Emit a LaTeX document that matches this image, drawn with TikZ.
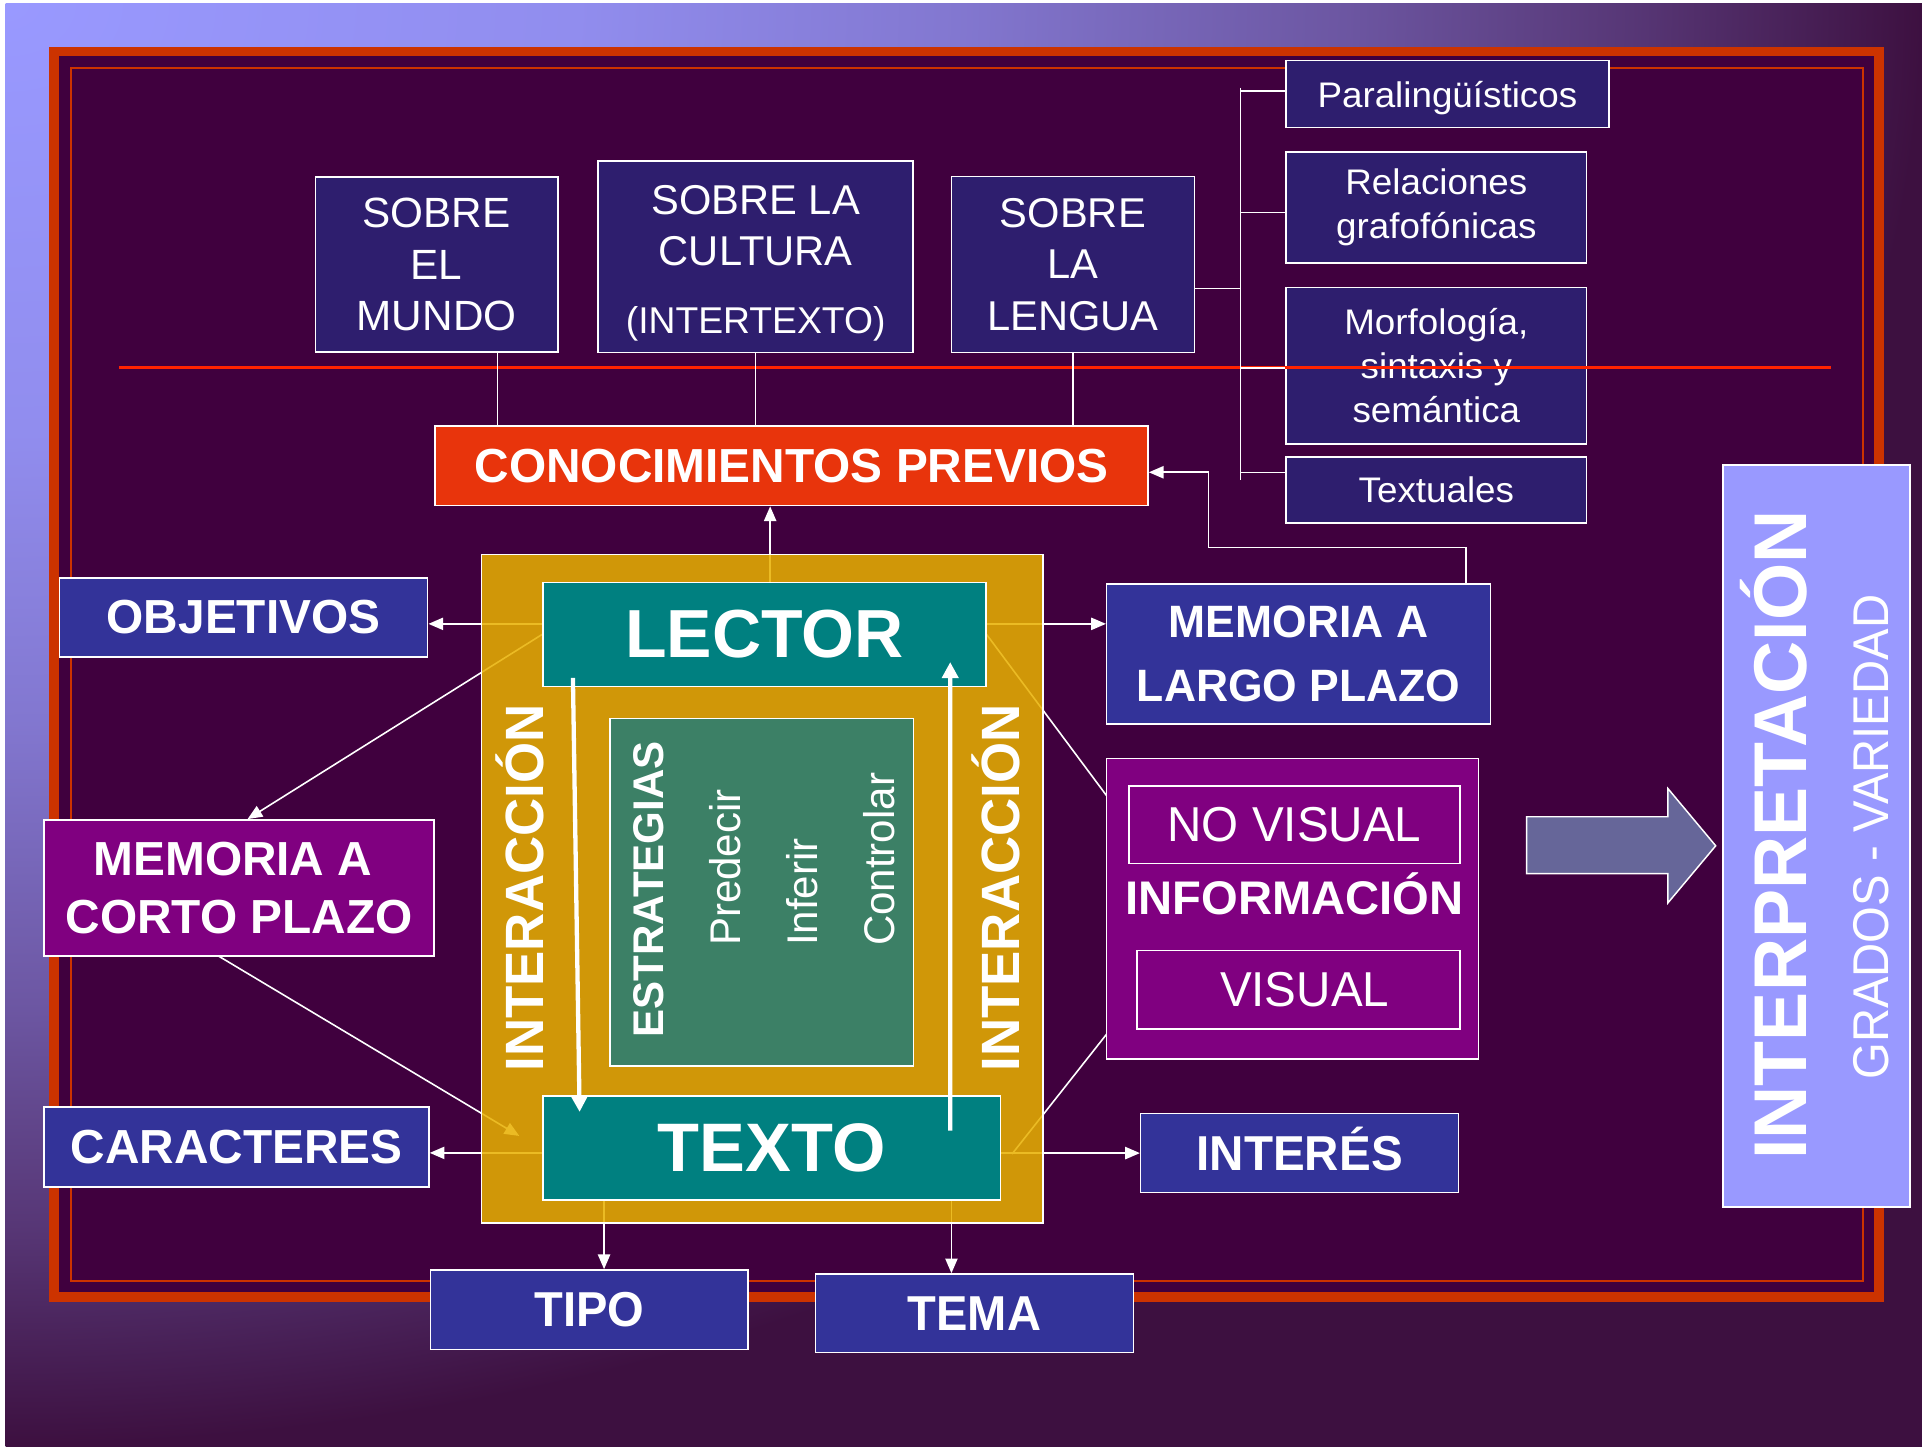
\documentclass[tikz,border=0pt]{standalone}
\usepackage{fontspec}
\usepackage{graphicx}
\setmainfont{Liberation Sans}
\usetikzlibrary{arrows.meta,calc}
\definecolor{lav}{RGB}{153,153,255}
\definecolor{bgd}{RGB}{61,16,64}
\definecolor{bgdark}{RGB}{64,0,62}
\definecolor{frameRed}{RGB}{204,51,0}
\definecolor{lineRed}{RGB}{255,36,0}
\definecolor{navyC}{RGB}{46,30,110}
\definecolor{blueC}{RGB}{51,51,153}
\definecolor{purpC}{RGB}{128,0,128}
\definecolor{tealC}{RGB}{0,128,128}
\definecolor{goldC}{RGB}{232,176,0}
\definecolor{estrC}{RGB}{60,128,102}
\definecolor{conocC}{RGB}{232,52,12}
\definecolor{arrC}{RGB}{102,102,153}
\colorlet{gA}{lav!91!bgd}
\colorlet{gB}{lav!75!bgd}
\colorlet{gC}{lav!51!bgd}
\colorlet{gD}{lav!28!bgd}
\pgfdeclareradialshading{bgrad}{\pgfpoint{0bp}{0bp}}{color(0bp)=(lav); color(3.75bp)=(gA); color(6.25bp)=(gB); color(8.75bp)=(gC); color(10.625bp)=(gD); color(12.5bp)=(bgd); color(50bp)=(bgd)}
\pgfdeclarelayer{bg}
\pgfdeclarelayer{conn}
\pgfdeclarelayer{goldl}
\pgfsetlayers{bg,conn,goldl,main}
\newcommand{\sx}[2]{\scalebox{#1}[1]{#2}}
\tikzset{
  box/.style={draw=white, line width=1.2pt, inner sep=0pt, text=white, align=center},
  navyb/.style={box, fill=navyC},
  blueb/.style={box, fill=blueC},
  purpb/.style={box, fill=purpC},
  tealb/.style={box, fill=tealC},
  wh/.style 2 args={minimum width=#1pt, minimum height=#2pt},
  ln/.style={white, line width=1.3pt},
  arr/.style={ln, -{Triangle[length=12pt,width=10pt]}},
  bigarr/.style={white, line width=3.5pt, -{Triangle[length=13pt,width=13pt]}},
  rtxt/.style={inner sep=0pt, text=white, rotate=90},
  fsm/.style={font=\fontsize{29}{36}\selectfont},
  fbl/.style={font=\bfseries\fontsize{39}{47.3}\selectfont}
}
\begin{document}
\begin{tikzpicture}[x=1pt,y=-1pt]
\useasboundingbox (0,0) rectangle (1568,1180);

\begin{pgfonlayer}{bg}
\fill[white] (0,0) rectangle (1568,1180);
\begin{scope}
\clip (4.5,3) rectangle (1568,1180);
\fill[bgd] (4.5,3) rectangle (1568,1180);
\shade[shading=bgrad] (4.5,3) ellipse [x radius=3127pt, y radius=2350pt];
\end{scope}
\fill[bgdark] (40,38) rectangle (1537,1062);
\draw[frameRed, line width=8pt] (44,42) rectangle (1533,1058);
\draw[frameRed, line width=1.5pt] (57.8,55.5) rectangle (1520,1045);
\end{pgfonlayer}

% top knowledge boxes
\node[navyb, wh={198}{143}, font=\fontsize{34.5}{41.8}\selectfont] (mundo) at (356.2,215.8) {SOBRE\\EL\\MUNDO};
\node[navyb, wh={257}{156}, font=\fontsize{34}{41.6}\selectfont] (cultura) at (616.5,209.4) {\rule{0pt}{34.1pt}SOBRE LA\\CULTURA\\[14.2pt]{\fontsize{30.4}{41.6}\selectfont (INTERTEXTO)}};
\node[navyb, wh={198.5}{143.3}, font=\fontsize{34}{41.8}\selectfont] (lengua) at (875.3,215.8) {SOBRE\\LA\\LENGUA};

\node[navyb, wh={263.3}{54.5}, fsm, text depth=0pt] (para) at (1180.8,76.8) {\sx{1.035}{Paralingüísticos}};
\node[navyb, wh={245.2}{90.9}, fsm] (rel) at (1171.8,169.3) {\sx{1.035}{Relaciones}\\\sx{1.035}{grafofónicas}};
\node[navyb, wh={245.2}{127.6}, fsm] (morf) at (1171.8,298.3) {\sx{1.035}{Morfología,}\\\sx{1.035}{sintaxis y}\\\sx{1.035}{semántica}};
\node[navyb, wh={245.2}{53.9}, fsm] (textu) at (1171.8,399.9) {\sx{1.035}{Textuales}};

\node[box, fill=conocC, wh={581.7}{65}, fbl] (conoc) at (645.8,380) {CONOCIMIENTOS PREVIOS};

% side boxes
\node[blueb, wh={300.5}{64.5}, fbl] (obj) at (198.7,503.75) {OBJETIVOS};
\node[purpb, wh={318}{111.2}, fbl] (mcp) at (195,724.4) {MEMORIA A\hspace*{10pt}\\CORTO PLAZO};
\node[blueb, wh={314}{65.5}, fbl] (car) at (193,935.75) {CARACTERES};
\node[blueb, wh={313.2}{114.1}, font=\bfseries\fontsize{37}{52}\selectfont] (mlp) at (1059.4,533.55) {\sx{0.98}{MEMORIA A}\\\sx{0.98}{LARGO PLAZO}};

\node[purpb, wh={303.2}{245}] (info) at (1054.4,741.5) {};
\node[purpb, wh={270}{63.5}, font=\fontsize{40}{48}\selectfont] (nov) at (1056,672.8) {\sx{0.97}{NO VISUAL}};
\node[purpb, wh={263.4}{63.9}, font=\fontsize{40}{48}\selectfont] (vis) at (1059.3,807.5) {\hspace*{10pt}\sx{0.97}{VISUAL}};
\node[inner sep=0pt, text=white, anchor=base, font=\bfseries\fontsize{38.5}{46}\selectfont] (infot) at (1056,745.7) {INFORMACIÓN};
\node[blueb, wh={259.5}{64.4}, font=\bfseries\fontsize{40}{48}\selectfont, text height=28.6pt, text depth=0pt] (inte) at (1060.3,940.7) {\sx{0.97}{INTERÉS}};

\node[blueb, wh={259}{64.8}, font=\bfseries\fontsize{40}{48}\selectfont] (tipo) at (480.8,1068.4) {\sx{0.96}{TIPO}};
\node[blueb, wh={259}{64.2}, font=\bfseries\fontsize{40}{48}\selectfont] (tema) at (795,1071.4) {\sx{0.96}{TEMA}};

% central block
\begin{pgfonlayer}{goldl}
\node[draw=white, line width=1pt, fill=goldC, fill opacity=0.86, wh={458}{545.6}, inner sep=0pt] (gold) at (621.9,725) {};
\end{pgfonlayer}
\node[tealb, wh={361.2}{84.9}, font=\bfseries\fontsize{55.5}{60}\selectfont] (lector) at (623.6,517.5) {LECTOR};
\node[tealb, wh={373.1}{84.8}, font=\bfseries\fontsize{56}{60}\selectfont] (texto) at (629.5,936.4) {TEXTO};
\node[draw=white, line width=1pt, fill=estrC, wh={247.6}{283.4}, inner sep=0pt] (estr) at (621.4,727.9) {};

\node[rtxt, anchor=base, font=\bfseries\fontsize{44}{50}\selectfont] (int1) at (443.6,724.4) {\sx{0.98}{INTERACCIÓN}};
\node[rtxt, anchor=base, font=\bfseries\fontsize{44}{50}\selectfont] (int2) at (831.6,724.4) {\sx{0.98}{INTERACCIÓN}};
\node[rtxt, anchor=base, font=\bfseries\fontsize{35}{40}\selectfont] (estt) at (541,725.6) {\sx{0.98}{ESTRATEGIAS}};
\node[rtxt, anchor=base west, font=\fontsize{35}{40}\selectfont] (pred) at (604,771.8) {\sx{0.98}{Predecir}};
\node[rtxt, anchor=base west, font=\fontsize{35}{40}\selectfont] (inf) at (667,771.8) {\sx{0.98}{Inferir}};
\node[rtxt, anchor=base west, font=\fontsize{35}{40}\selectfont] (ctrl) at (730,771.8) {\sx{0.98}{Controlar}};

% interpretation
\node[draw=white, line width=1.2pt, fill=lav, wh={152.5}{605}, inner sep=0pt] (interp) at (1481.75,682) {};
\node[rtxt, anchor=base, font=\bfseries\fontsize{61}{66}\selectfont] (interpt) at (1474,681.3) {\sx{0.985}{INTERPRETACIÓN}};
\node[rtxt, anchor=base, font=\fontsize{41}{46}\selectfont] (grados) at (1541,683) {\sx{0.94}{GRADOS - VARIEDAD}};

% block arrow
\filldraw[fill=arrC, draw=white, line width=1.2pt] (1245.4,666.3) -- (1360.7,666.3) -- (1360.7,643.3) -- (1399.7,690) -- (1360.7,736.6) -- (1360.7,712.8) -- (1245.4,712.8) -- cycle;

% red rule
\draw[lineRed, line width=2.5pt] (97,299.7) -- (1493.5,299.7);

% knowledge connectors
\coordinate (m1) at ($(mundo.south)+(49.8,0)$);
\draw[ln] (m1) -- (m1 |- conoc.north);
\draw[ln] (cultura.south) -- (cultura.south |- conoc.north);
\draw[ln] (lengua.south) -- (lengua.south |- conoc.north);

% bracket
\coordinate (bt) at (1012,71.4);
\coordinate (bb) at (1012,391.8);
\draw[ln] (bt) -- (bb);
\coordinate (lg) at ($(lengua.east)+(0,19.4)$);
\draw[ln] (lg) -- (lg -| bt);
\coordinate (pw) at ($(para.west)+(0,-2.5)$);
\draw[ln] (pw -| bt) -- (pw);
\coordinate (rw) at ($(rel.west)+(0,4.1)$);
\draw[ln] (rw -| bt) -- (rw);
\coordinate (mw) at ($(morf.west)+(0,1.7)$);
\draw[ln] (mw -| bt) -- (mw);
\coordinate (tw) at ($(textu.west)+(0,-14.4)$);
\draw[ln] (tw -| bt) -- (tw);

% connectors under the gold frame
\begin{pgfonlayer}{conn}
\coordinate (ya) at ($(obj.east)+(0,5.2)$);
\draw[arr] (lector.west |- ya) -- (ya);
\draw[arr] (lector.east |- ya) -- (mlp.west |- ya);
\draw[arr] (lector.west) -- ($(mcp.north)+(7,0)$);
\draw[arr] ($(mcp.south)+(-24,-5)$) -- ($(texto.west)+(-18.7,-9.7)$);
\coordinate (lc) at ($(lector.north)+(4.7,0)$);
\draw[arr] (lc) -- (lc |- conoc.south);
\draw[arr] (lector.east) -- (nov.west);
\draw[arr] ($(texto.east)+(9,5)$) -- ($(vis.west)+(0,5.5)$);
\coordinate (yb) at ($(car.east)+(0,4.8)$);
\draw[arr] (texto.west |- yb) -- (yb);
\draw[arr] (texto.east |- inte.west) -- (inte.west);
\coordinate (tp) at ($(tipo.north)+(12,0)$);
\draw[arr] (tp |- texto.south) -- (tp);
\coordinate (tm) at ($(tema.north)+(-18.8,0)$);
\draw[arr] (tm |- texto.south) -- (tm);
\coordinate (q1) at ($(mlp.north)+(136.6,0)$);
\coordinate (q2) at (985.8,446.5);
\coordinate (q3) at ($(conoc.east)+(0,5.3)$);
\draw[arr] (q1) |- (q2) |- (q3);
\end{pgfonlayer}

% interaction arrows
\draw[bigarr] ($(lector.south west)+(25,-7.5)$) -- ($(texto.north west)+(30.5,13.7)$);
\draw[bigarr] ($(texto.north)+(145.7,29)$) -- ($(lector.south)+(151.6,-20.4)$);
\end{tikzpicture}
\end{document}
